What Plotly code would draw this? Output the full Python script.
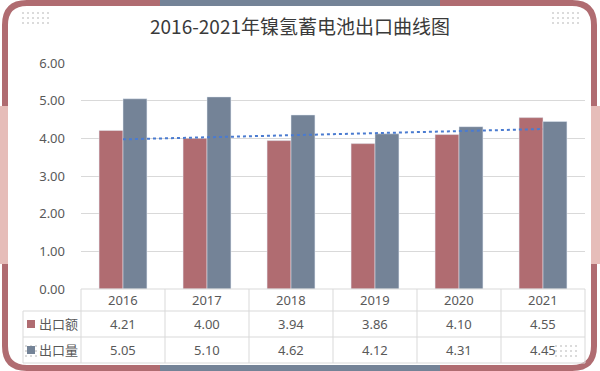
import numpy as np
import plotly.graph_objects as go

years = ["2016", "2017", "2018", "2019", "2020", "2021"]
export_value = [4.21, 4.00, 3.94, 3.86, 4.10, 4.55]   # 出口额
export_volume = [5.05, 5.10, 4.62, 4.12, 4.31, 4.45]  # 出口量
series_names = ["出口额", "出口量"]
y_ticks = [0, 1, 2, 3, 4, 5, 6]
title = "2016-2021年镍氢蓄电池出口曲线图"

ROSE = "#b06c71"
SLATE = "#748397"
PINK = "#e6bdb9"
GRID = "#d9d9d9"
TXT = "#595959"
FONT = "Noto Sans, Noto Sans CJK SC"

W, H = 600, 371
L, R, T, B = 81, 585, 63, 289  # plot area pixels


def px(x):
    return (x - L) / (R - L)


def py(y):
    return (B - y) / (B - T)


fig = go.Figure()
fig.add_trace(go.Bar(x=years, y=export_value, name=series_names[0], marker_color=ROSE))
fig.add_trace(go.Bar(x=years, y=export_volume, name=series_names[1], marker_color=SLATE))

# linear trendline of 出口额
idx = np.arange(len(years))
k, b0 = np.polyfit(idx, export_value, 1)
fig.add_trace(go.Scatter(x=years, y=k * idx + b0, mode="lines",
                         line=dict(color="#4a7bd0", width=2, dash="dot"),
                         hoverinfo="skip", showlegend=False))

shapes = []
ann = []


def P(x, y):
    return f"{px(x):.5f},{py(y):.5f}"


# ---- frame ----
x0, x1, y0, y1, r = 5, 594, 3, 368, 22
frame = (f"M {P(x0 + r, y0)} L {P(x1 - r, y0)} Q {P(x1, y0)} {P(x1, y0 + r)} "
         f"L {P(x1, y1 - r)} Q {P(x1, y1)} {P(x1 - r, y1)} L {P(x0 + r, y1)} "
         f"Q {P(x0, y1)} {P(x0, y1 - r)} L {P(x0, y0 + r)} Q {P(x0, y0)} {P(x0 + r, y0)} Z")
shapes.append(dict(type="path", path=frame, xref="paper", yref="paper",
                   line=dict(color=ROSE, width=6), layer="above"))
for yy in (y0, y1):
    shapes.append(dict(type="line", xref="paper", yref="paper",
                       x0=px(160), x1=px(440), y0=py(yy), y1=py(yy),
                       line=dict(color=SLATE, width=6), layer="above"))
# side tabs
for xa, xb in ((0, 8), (591, 600)):
    shapes.append(dict(type="rect", xref="paper", yref="paper",
                       x0=px(xa), x1=px(xb), y0=py(106), y1=py(264),
                       fillcolor=PINK, line=dict(width=0), layer="above"))


# dot grids decoration
def dots(xs, ys, nx, ny, step=5):
    for i in range(nx):
        for j in range(ny):
            cx, cy = xs + i * step, ys + j * step
            shapes.append(dict(type="circle", xref="paper", yref="paper",
                               x0=px(cx - 1), x1=px(cx + 1), y0=py(cy - 1), y1=py(cy + 1),
                               fillcolor="#cfcfcf", line=dict(width=0), layer="above"))


dots(23, 13, 6, 3)
dots(553, 13, 6, 3)
dots(26, 346, 3, 3)
dots(556, 346, 5, 3)

# ---- data table ----
for yy in (311, 337, 363):
    shapes.append(dict(type="line", xref="paper", yref="paper", x0=px(23), x1=px(R),
                       y0=py(yy), y1=py(yy), line=dict(color=GRID, width=1)))
shapes.append(dict(type="line", xref="paper", yref="paper", x0=px(L), x1=px(R),
                   y0=py(289), y1=py(289), line=dict(color=GRID, width=1)))
for i in range(len(years) + 1):
    xb = px(L + i * (R - L) / len(years))
    shapes.append(dict(type="line", xref="paper", yref="paper", x0=xb, x1=xb,
                       y0=py(289), y1=py(363), line=dict(color=GRID, width=1)))
shapes.append(dict(type="line", xref="paper", yref="paper", x0=px(23), x1=px(23),
                   y0=py(311), y1=py(363), line=dict(color=GRID, width=1)))

for i, yr in enumerate(years):
    ann.append(dict(x=i, y=py(300), xref="x", yref="paper", text=yr, showarrow=False,
                    yanchor="middle", font=dict(size=13, color=TXT, family=FONT)))
for vals, rowy in ((export_value, 324), (export_volume, 350)):
    for i, v in enumerate(vals):
        ann.append(dict(x=i, y=py(rowy), xref="x", yref="paper", text=f"{v:.2f}",
                        yanchor="middle", showarrow=False,
                        font=dict(size=13, color=TXT, family=FONT)))
for name, col, rowy in ((series_names[0], ROSE, 324), (series_names[1], SLATE, 350)):
    shapes.append(dict(type="rect", xref="paper", yref="paper", x0=px(27), x1=px(35),
                       y0=py(rowy - 4), y1=py(rowy + 4), fillcolor=col, line=dict(width=0)))
    ann.append(dict(x=px(37), y=py(rowy), xref="paper", yref="paper", text=name,
                    xanchor="left", yanchor="middle", showarrow=False,
                    font=dict(size=13, color=TXT, family=FONT)))

fig.update_layout(
    width=W, height=H,
    margin=dict(l=L, r=W - R, t=T, b=H - B, autoexpand=False),
    paper_bgcolor="white", plot_bgcolor="white",
    showlegend=False,
    barmode="group", bargap=0.43, bargroupgap=0,
    title=dict(text=title, x=0.5, xanchor="center", y=1 - 27 / H, yanchor="middle",
               font=dict(size=19, color="#3a3a3a", family="Noto Sans CJK SC")),
    font=dict(family=FONT, color=TXT),
    shapes=shapes, annotations=ann,
    xaxis=dict(type="category", categoryorder="array", categoryarray=years,
               range=[-0.5, len(years) - 0.5], autorange=False,
               showticklabels=False, showgrid=False, zeroline=False,
               showline=False, ticks=""),
    yaxis=dict(range=[0, 6], autorange=False, tickvals=y_ticks, tickformat=".2f", showgrid=True,
               gridcolor=GRID, gridwidth=1, zeroline=False, showline=False,
               tickfont=dict(size=13, color=TXT, family=FONT), ticklabelstandoff=15),
)

fig.write_html("out.html", config={"displayModeBar": False},
               post_script="document.body.style.margin='0';")
